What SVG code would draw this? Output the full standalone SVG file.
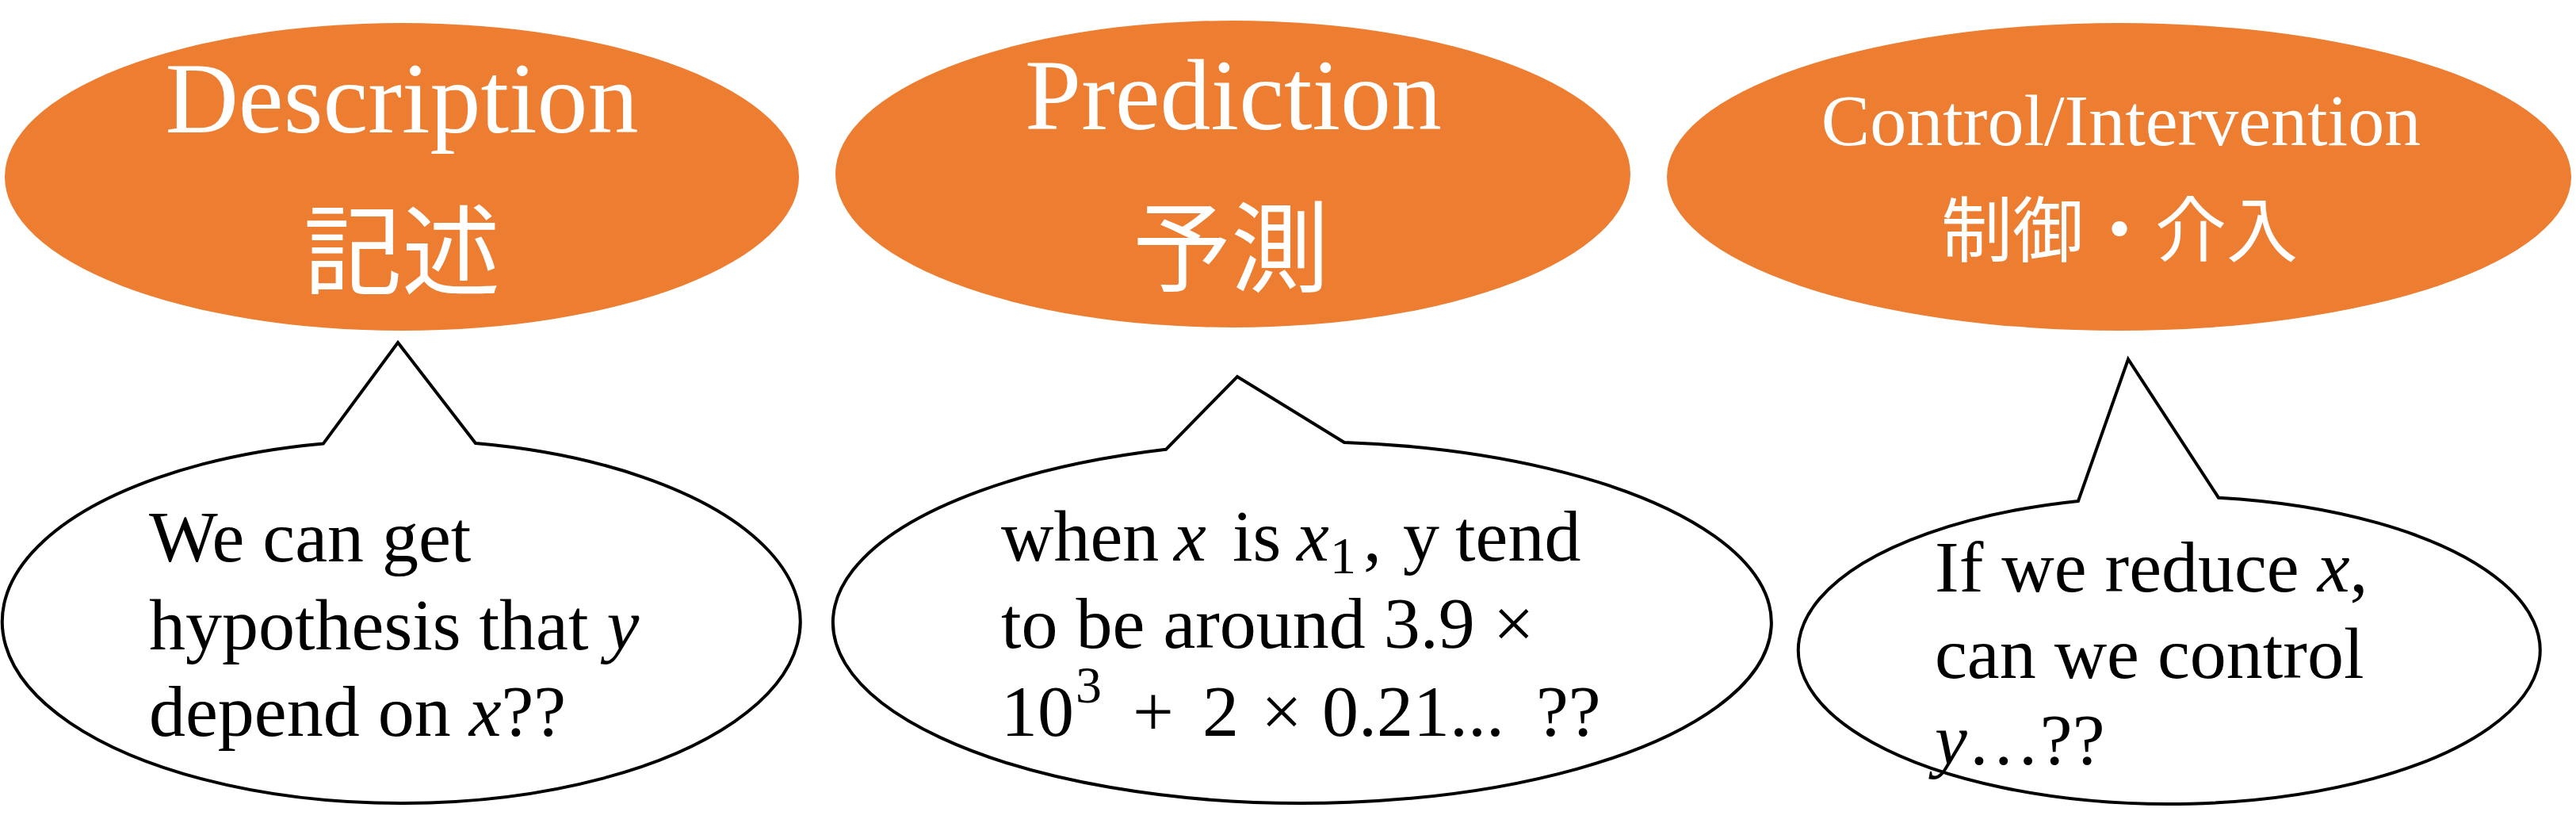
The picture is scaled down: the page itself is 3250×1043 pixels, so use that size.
<svg xmlns="http://www.w3.org/2000/svg" width="3250" height="1043" viewBox="0 0 3250 1043">
<style>
.head{fill:#ED7D31;stroke:none}
.en{font-family:"Liberation Serif","Times New Roman",serif;fill:#FFFFFF;text-anchor:middle}
.jp{font-family:"Noto Sans CJK JP","Noto Sans CJK SC",sans-serif;fill:#FFFFFF;text-anchor:middle}
.bubble{fill:#FFFFFF;stroke:#000000;stroke-width:4;stroke-linejoin:miter}
.bt{font-family:"Liberation Serif","Times New Roman",serif;font-size:92px;fill:#000000}
.it{font-style:italic}
</style>
<rect width="3250" height="1043" fill="#FFFFFF"/>
<g id="node-description">
<ellipse class="head" cx="507" cy="223" rx="501" ry="194"/>
<text class="en" x="507" y="167" font-size="128">Description</text>
<text class="jp" x="507" y="362" font-size="124">記述</text>
</g>
<g id="node-prediction">
<ellipse class="head" cx="1555.5" cy="219.5" rx="501.5" ry="193.5"/>
<text class="en" x="1556" y="163" font-size="128">Prediction</text>
<text class="jp" x="1553" y="358" font-size="124">予測</text>
</g>
<g id="node-control">
<ellipse class="head" cx="2673.5" cy="223" rx="570.5" ry="194"/>
<text class="en" x="2676" y="183" font-size="92">Control/Intervention</text>
<text class="jp" x="2674" y="323" font-size="90">制御・介入</text>
</g>
<g id="connectors"></g>
<g id="callout-description">
<path class="bubble" d="M408,559.4 L502,432 L600,559 A503.5,229 0 1 1 408,559.4 Z"/>
<text class="bt" x="188" y="708">We can get</text>
<text class="bt" x="188" y="819">hypothesis that <tspan class="it">y</tspan></text>
<text class="bt" x="188" y="928">depend on <tspan class="it">x</tspan>??</text>
</g>
<g id="callout-prediction">
<path class="bubble" d="M1471,566.8 L1561,475 L1696,557.9 A592,228 0 1 1 1471,566.8 Z"/>
<text class="bt" y="707"><tspan x="1263">when</tspan><tspan x="1481" class="it">x</tspan><tspan x="1555">is</tspan><tspan x="1636" class="it">x</tspan><tspan x="1678" dy="16" font-size="66">1</tspan><tspan x="1720" dy="-16">,</tspan><tspan x="1770">y</tspan><tspan x="1836">tend</tspan></text>
<text class="bt" x="1263" y="817">to be around 3.9 ×</text>
<text class="bt" y="928"><tspan x="1263">10</tspan><tspan x="1357" dy="-42" font-size="66">3</tspan><tspan x="1429" dy="42">+</tspan><tspan x="1517">2</tspan><tspan x="1591">×</tspan><tspan x="1668">0.21...</tspan><tspan x="1938">??</tspan></text>
</g>
<g id="callout-control">
<path class="bubble" d="M2622,631.9 L2685,453 L2799,627.7 A468,194 0 1 1 2622,631.9 Z"/>
<text class="bt" x="2441" y="746">If we reduce <tspan class="it">x</tspan>,</text>
<text class="bt" x="2441" y="855">can we control</text>
<text class="bt" x="2441" y="964"><tspan class="it">y</tspan>…??</text>
</g>
</svg>
